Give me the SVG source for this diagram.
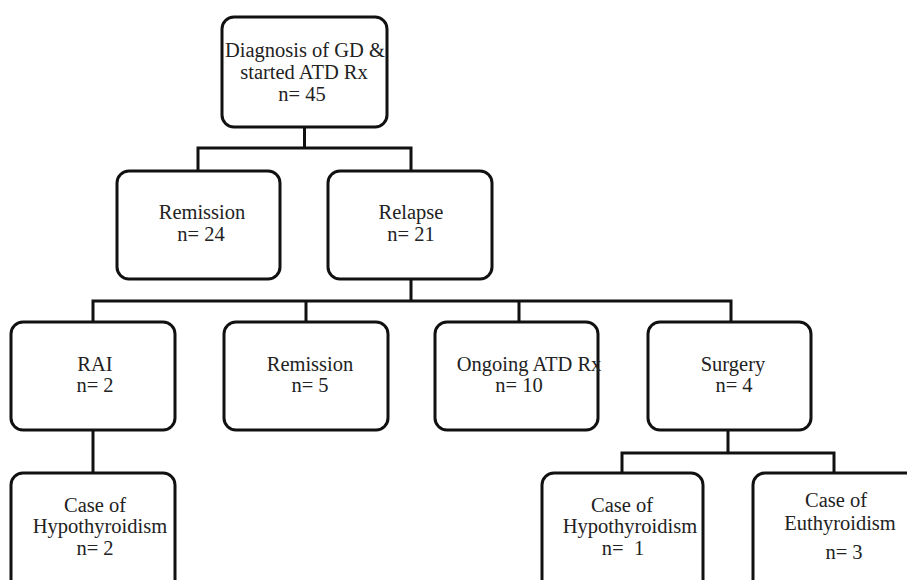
<svg xmlns="http://www.w3.org/2000/svg" width="907" height="580" viewBox="0 0 907 580">
<style>
.box{fill:#fff;stroke:#111;stroke-width:3}
.ln{fill:none;stroke:#111;stroke-width:3}
text{font-family:"Liberation Serif","Times New Roman",serif;font-size:20.5px;fill:#222;text-anchor:middle}
</style>
<rect width="907" height="580" fill="#fff"/>
<g id="connectors">
<path class="ln" d="M304.5 127 V148 M198 171 V148 H411 V171"/>
<path class="ln" d="M411 279 V301 M93 322 V301 H731 V322 M306 301 V322 M519 301 V322"/>
<path class="ln" d="M93 430 V473"/>
<path class="ln" d="M728 430 V453 M622 473 V453 H834 V473"/>
</g>
<g id="n-diagnosis">
<rect class="box" x="222" y="17" width="165" height="110" rx="12"/>
<text x="305" y="57">Diagnosis of GD &amp;</text>
<text x="304" y="79">started ATD Rx</text>
<text x="302" y="101">n= 45</text>
</g>
<g id="n-remission1">
<rect class="box" x="117" y="171" width="163" height="108" rx="12"/>
<text x="202" y="219">Remission</text>
<text x="201" y="241">n= 24</text>
</g>
<g id="n-relapse">
<rect class="box" x="328" y="171" width="164" height="108" rx="12"/>
<text x="411" y="219">Relapse</text>
<text x="411" y="241">n= 21</text>
</g>
<g id="n-rai">
<rect class="box" x="11" y="322" width="164" height="108" rx="12"/>
<text x="95" y="371">RAI</text>
<text x="95" y="392">n= 2</text>
</g>
<g id="n-remission2">
<rect class="box" x="224" y="322" width="164" height="108" rx="12"/>
<text x="310" y="371">Remission</text>
<text x="310" y="392">n= 5</text>
</g>
<g id="n-ongoing">
<rect class="box" x="435" y="322" width="163" height="108" rx="12"/>
<text x="529" y="371">Ongoing ATD Rx</text>
<text x="519" y="392">n= 10</text>
</g>
<g id="n-surgery">
<rect class="box" x="648" y="322" width="163" height="108" rx="12"/>
<text x="733" y="371">Surgery</text>
<text x="734" y="392">n= 4</text>
</g>
<g id="n-hypo1">
<rect class="box" x="11" y="473" width="164" height="130" rx="12"/>
<text x="95" y="512">Case of</text>
<text x="100" y="533">Hypothyroidism</text>
<text x="95" y="555">n= 2</text>
</g>
<g id="n-hypo2">
<rect class="box" x="542" y="473" width="161" height="130" rx="12"/>
<text x="622" y="512">Case of</text>
<text x="630" y="533">Hypothyroidism</text>
<text x="623" y="555" xml:space="preserve">n=  1</text>
</g>
<g id="n-euthyroid">
<rect class="box" x="753" y="473" width="170" height="130" rx="12"/>
<text x="836" y="507">Case of</text>
<text x="840" y="530">Euthyroidism</text>
<text x="844" y="559">n= 3</text>
</g>
</svg>
